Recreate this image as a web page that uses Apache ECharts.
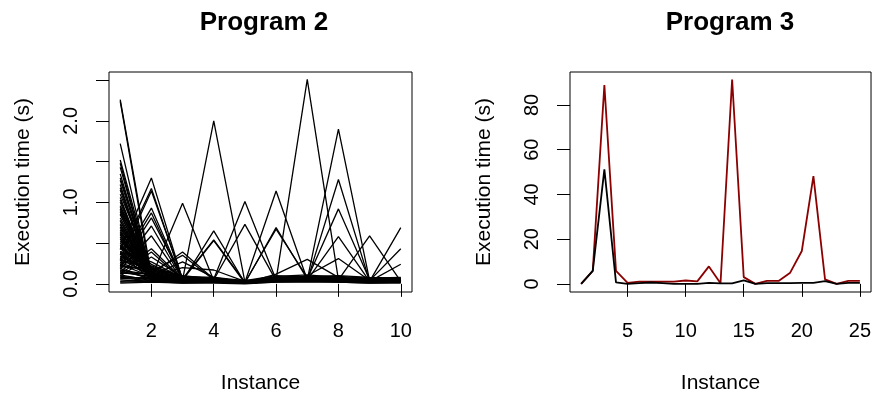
<!DOCTYPE html>
<html>
<head>
<meta charset="utf-8">
<script src="https://cdn.jsdelivr.net/npm/echarts@6/dist/echarts.min.js"></script>
<style>
  html, body { margin: 0; padding: 0; background: #fff; }
  #chart { width: 874px; height: 399px; }
</style>
</head>
<body>
<div id="chart"></div>
<script>
// Program 2: execution time of each run over 10 instances
const instances2 = [1, 2, 3, 4, 5, 6, 7, 8, 9, 10];
const program2Runs = [
  [2.26, 0.11, 0.03, 0.02, 0.01, 0.04, 0.05, 0.03, 0.02, 0.02],
  [2.24, 0.05, 0.02, 0.03, 0.01, 0.03, 0.04, 0.04, 0.03, 0.02],
  [1.72, 0.08, 0.04, 0.03, 0.02, 0.05, 0.03, 0.05, 0.02, 0.03],
  [1.52, 0.13, 0.03, 0.02, 0.01, 0.04, 0.06, 0.03, 0.04, 0.02],
  [1.48, 0.06, 0.02, 0.04, 0.02, 0.03, 0.05, 0.02, 0.03, 0.04],
  [1.43, 0.09, 0.05, 0.03, 0.01, 0.06, 0.04, 0.04, 0.02, 0.03],
  [1.35, 0.07, 0.03, 0.02, 0.02, 0.05, 0.04, 0.03, 0.03, 0.02],
  [1.30, 0.15, 0.04, 0.03, 0.01, 0.04, 0.05, 0.06, 0.02, 0.03],
  [1.27, 0.10, 0.06, 0.02, 0.02, 0.03, 0.04, 0.05, 0.03, 0.02],
  [1.22, 0.04, 0.03, 0.04, 0.01, 0.05, 0.03, 0.04, 0.02, 0.04],
  [1.18, 0.12, 0.02, 0.03, 0.02, 0.06, 0.05, 0.03, 0.03, 0.03],
  [1.15, 0.08, 0.04, 0.02, 0.01, 0.04, 0.06, 0.04, 0.02, 0.02],
  [1.10, 0.18, 0.05, 0.03, 0.02, 0.05, 0.04, 0.05, 0.04, 0.03],
  [1.06, 0.06, 0.03, 0.02, 0.01, 0.03, 0.05, 0.03, 0.02, 0.02],
  [1.03, 0.11, 0.04, 0.04, 0.02, 0.04, 0.03, 0.04, 0.03, 0.04],
  [1.00, 0.09, 0.03, 0.03, 0.01, 0.05, 0.04, 0.06, 0.02, 0.03],
  [0.96, 0.14, 0.05, 0.02, 0.02, 0.06, 0.05, 0.03, 0.03, 0.02],
  [0.92, 0.07, 0.02, 0.03, 0.01, 0.04, 0.04, 0.05, 0.02, 0.03],
  [0.88, 0.20, 0.06, 0.04, 0.02, 0.05, 0.06, 0.04, 0.04, 0.02],
  [0.85, 0.10, 0.03, 0.02, 0.01, 0.03, 0.04, 0.03, 0.02, 0.04],
  [0.42, 1.30, 0.05, 0.03, 0.02, 0.04, 0.05, 0.04, 0.03, 0.02],
  [0.35, 1.17, 0.04, 0.02, 0.01, 0.05, 0.04, 0.03, 0.02, 0.03],
  [0.30, 1.14, 0.06, 0.03, 0.02, 0.03, 0.06, 0.05, 0.03, 0.02],
  [0.28, 0.93, 0.05, 0.04, 0.01, 0.04, 0.03, 0.04, 0.02, 0.03],
  [0.25, 0.87, 0.04, 0.02, 0.02, 0.05, 0.05, 0.03, 0.03, 0.02],
  [0.22, 0.81, 0.07, 0.03, 0.01, 0.04, 0.04, 0.06, 0.02, 0.04],
  [0.20, 0.71, 0.05, 0.02, 0.02, 0.06, 0.05, 0.04, 0.03, 0.03],
  [0.18, 0.59, 0.04, 0.03, 0.01, 0.03, 0.04, 0.05, 0.02, 0.02],
  [0.15, 0.43, 0.06, 0.04, 0.02, 0.05, 0.06, 0.03, 0.04, 0.03],
  [0.12, 0.39, 0.05, 0.02, 0.01, 0.04, 0.03, 0.04, 0.02, 0.02],
  [0.10, 0.33, 0.08, 0.03, 0.02, 0.05, 0.05, 0.03, 0.03, 0.04],
  [0.60, 0.08, 0.99, 0.04, 0.02, 0.04, 0.05, 0.04, 0.03, 0.02],
  [0.48, 0.12, 0.39, 0.06, 0.02, 0.03, 0.04, 0.05, 0.02, 0.03],
  [0.45, 0.15, 0.35, 0.05, 0.01, 0.05, 0.06, 0.04, 0.03, 0.02],
  [0.38, 0.10, 0.27, 0.08, 0.02, 0.04, 0.05, 0.03, 0.02, 0.03],
  [0.78, 0.09, 0.05, 2.00, 0.02, 0.04, 0.05, 0.04, 0.03, 0.02],
  [0.70, 0.11, 0.04, 0.65, 0.01, 0.05, 0.04, 0.05, 0.02, 0.03],
  [0.66, 0.07, 0.06, 0.54, 0.02, 0.06, 0.05, 0.03, 0.03, 0.02],
  [0.63, 0.13, 0.05, 0.53, 0.01, 0.04, 0.06, 0.04, 0.02, 0.04],
  [0.55, 0.09, 0.20, 0.17, 0.03, 0.05, 0.04, 0.05, 0.03, 0.02],
  [0.81, 0.10, 0.04, 0.06, 1.01, 0.05, 0.04, 0.04, 0.03, 0.02],
  [0.74, 0.08, 0.05, 0.05, 0.73, 0.04, 0.05, 0.03, 0.02, 0.03],
  [0.68, 0.12, 0.04, 0.03, 0.02, 1.14, 0.05, 0.04, 0.03, 0.02],
  [0.58, 0.09, 0.05, 0.04, 0.01, 0.69, 0.06, 0.05, 0.02, 0.03],
  [0.52, 0.14, 0.03, 0.02, 0.02, 0.67, 0.08, 0.04, 0.03, 0.02],
  [0.90, 0.11, 0.04, 0.03, 0.02, 0.05, 2.51, 0.05, 0.03, 0.02],
  [0.50, 0.06, 0.05, 0.04, 0.01, 0.12, 0.30, 0.08, 0.02, 0.03],
  [0.94, 0.13, 0.04, 0.03, 0.02, 0.04, 0.05, 1.90, 0.04, 0.02],
  [0.86, 0.10, 0.05, 0.04, 0.01, 0.05, 0.04, 1.28, 0.03, 0.03],
  [0.77, 0.08, 0.03, 0.02, 0.02, 0.06, 0.06, 0.92, 0.05, 0.02],
  [0.72, 0.12, 0.06, 0.03, 0.01, 0.04, 0.05, 0.58, 0.03, 0.04],
  [0.64, 0.09, 0.04, 0.05, 0.02, 0.05, 0.10, 0.31, 0.04, 0.02],
  [0.61, 0.07, 0.05, 0.04, 0.01, 0.03, 0.04, 0.05, 0.59, 0.03],
  [0.57, 0.11, 0.04, 0.03, 0.02, 0.05, 0.05, 0.04, 0.03, 0.69],
  [0.47, 0.08, 0.06, 0.02, 0.01, 0.04, 0.06, 0.03, 0.04, 0.43],
  [0.40, 0.10, 0.03, 0.04, 0.02, 0.06, 0.04, 0.05, 0.03, 0.24],
  [0.44, 0.08, 0.07, 0.06, 0.03, 0.08, 0.09, 0.07, 0.06, 0.07],
  [0.37, 0.05, 0.04, 0.02, 0.02, 0.03, 0.04, 0.03, 0.03, 0.02],
  [0.33, 0.16, 0.09, 0.08, 0.04, 0.10, 0.08, 0.09, 0.07, 0.08],
  [0.31, 0.10, 0.03, 0.02, 0.01, 0.05, 0.03, 0.05, 0.02, 0.03],
  [0.27, 0.22, 0.08, 0.07, 0.03, 0.09, 0.11, 0.08, 0.06, 0.06],
  [0.24, 0.09, 0.04, 0.02, 0.02, 0.05, 0.05, 0.03, 0.03, 0.02],
  [0.21, 0.19, 0.10, 0.06, 0.04, 0.07, 0.09, 0.10, 0.08, 0.07],
  [0.19, 0.05, 0.03, 0.04, 0.01, 0.03, 0.04, 0.05, 0.02, 0.03],
  [0.16, 0.07, 0.02, 0.03, 0.01, 0.04, 0.03, 0.04, 0.03, 0.02],
  [0.13, 0.13, 0.07, 0.05, 0.03, 0.08, 0.07, 0.06, 0.05, 0.06],
  [0.11, 0.04, 0.02, 0.02, 0.01, 0.03, 0.04, 0.04, 0.03, 0.03],
  [0.09, 0.06, 0.03, 0.02, 0.01, 0.03, 0.05, 0.04, 0.03, 0.02],
  [0.07, 0.04, 0.02, 0.03, 0.01, 0.04, 0.03, 0.03, 0.02, 0.03],
  [0.05, 0.02, 0.03, 0.02, 0.01, 0.03, 0.04, 0.05, 0.03, 0.02],
  [0.03, 0.05, 0.02, 0.04, 0.02, 0.05, 0.03, 0.03, 0.02, 0.03],
  [0.02, 0.03, 0.01, 0.02, 0.01, 0.02, 0.03, 0.02, 0.01, 0.02],
  [0.01, 0.02, 0.01, 0.01, 0.00, 0.02, 0.02, 0.02, 0.01, 0.01],
  [0.53, 0.24, 0.06, 0.04, 0.02, 0.06, 0.07, 0.05, 0.04, 0.05],
  [0.46, 0.18, 0.05, 0.03, 0.02, 0.05, 0.06, 0.06, 0.03, 0.04],
  [0.39, 0.27, 0.07, 0.05, 0.03, 0.07, 0.06, 0.07, 0.05, 0.05],
  [0.34, 0.14, 0.06, 0.04, 0.02, 0.06, 0.08, 0.06, 0.04, 0.06],
  [0.29, 0.21, 0.05, 0.03, 0.02, 0.05, 0.07, 0.05, 0.04, 0.04],
  [0.26, 0.12, 0.06, 0.05, 0.03, 0.06, 0.06, 0.07, 0.05, 0.05],
  [0.23, 0.16, 0.07, 0.04, 0.02, 0.07, 0.08, 0.06, 0.04, 0.05],
  [0.17, 0.11, 0.05, 0.03, 0.02, 0.05, 0.06, 0.05, 0.04, 0.04],
  [0.14, 0.09, 0.06, 0.04, 0.02, 0.06, 0.05, 0.06, 0.03, 0.05],
  [0.08, 0.07, 0.05, 0.03, 0.02, 0.04, 0.05, 0.04, 0.04, 0.04],
  [0.06, 0.08, 0.04, 0.05, 0.03, 0.05, 0.06, 0.05, 0.05, 0.05]
];
const program2XTicks = [2, 4, 6, 8, 10];
const program2YTicks = [0, 0.5, 1, 1.5, 2, 2.5];
const program2YLabels = [0, 1, 2];

// Program 3: two timing series over 25 instances
const instances3 = [1, 2, 3, 4, 5, 6, 7, 8, 9, 10, 11, 12, 13, 14, 15, 16, 17, 18, 19, 20, 21, 22, 23, 24, 25];
const program3Red = [0, 5.8, 88.9, 5.8, 0.4, 1.0, 1.0, 1.0, 1.0, 1.5, 1.1, 7.8, 0.3, 91.4, 3.0, 0, 1.3, 1.3, 5.0, 14.7, 48.2, 2.0, 0, 1.3, 1.3];
const program3Black = [0, 5.8, 51.2, 0.7, 0, 0.3, 0.6, 0.3, 0, 0, 0, 0.4, 0.2, 0.2, 1.6, 0, 0.3, 0.3, 0.3, 0.4, 0.4, 1.2, 0, 0.4, 0.4];
const program3XTicks = [5, 10, 15, 20, 25];
const program3YTicks = [0, 20, 40, 60, 80];

const FONT = "'Liberation Sans', Arial, Helvetica, sans-serif";
const toPoints = (xs, ys) => ys.map((v, i) => [xs[i], v]);

function xAxisFor(gridIndex, min, max, ticks) {
  return {
    type: 'value', gridIndex, min, max,
    name: 'Instance', nameLocation: 'middle', nameGap: 81,
    nameTextStyle: { fontFamily: FONT, fontSize: 21, color: '#000' },
    axisLine: { show: false },
    splitLine: { show: false },
    axisTick: { show: true, inside: false, length: 13, customValues: ticks,
                lineStyle: { color: '#000', width: 1 } },
    axisLabel: { show: true, margin: 29, customValues: ticks,
                 fontFamily: FONT, fontSize: 20, color: '#000' }
  };
}

function yAxisFor(gridIndex, min, max, ticks, labels, fmt) {
  return {
    type: 'value', gridIndex, min, max,
    name: 'Execution time (s)', nameLocation: 'middle', nameGap: 75,
    nameTextStyle: { fontFamily: FONT, fontSize: 21, color: '#000' },
    axisLine: { show: false },
    splitLine: { show: false },
    axisTick: { show: true, inside: false, length: 13, customValues: ticks,
                lineStyle: { color: '#000', width: 1 } },
    axisLabel: { show: true, margin: 28, rotate: 90, customValues: labels,
                 formatter: fmt, fontFamily: FONT, fontSize: 20, color: '#000' }
  };
}

const series = [];
program2Runs.forEach((run, i) => {
  series.push({
    type: 'line', name: 'run ' + (i + 1), xAxisIndex: 0, yAxisIndex: 0,
    data: toPoints(instances2, run), symbol: 'none', silent: true,
    lineStyle: { color: '#000', width: 1.3 }
  });
});
series.push({
  type: 'line', name: 'Program 3 (red)', xAxisIndex: 1, yAxisIndex: 1,
  data: toPoints(instances3, program3Red), symbol: 'none', silent: true,
  lineStyle: { color: '#8b0000', width: 1.8 }
});
series.push({
  type: 'line', name: 'Program 3 (black)', xAxisIndex: 1, yAxisIndex: 1,
  data: toPoints(instances3, program3Black), symbol: 'none', silent: true,
  lineStyle: { color: '#000', width: 1.8 }
});

const chart = echarts.init(document.getElementById('chart'), null, { renderer: 'canvas' });
chart.setOption({
  animation: false,
  backgroundColor: '#fff',
  textStyle: { fontFamily: FONT },
  title: [
    { text: 'Program 2', left: 259, top: 5, textAlign: 'center',
      textStyle: { fontFamily: FONT, fontSize: 26, fontWeight: 'bold', color: '#000' } },
    { text: 'Program 3', left: 725, top: 5, textAlign: 'center',
      textStyle: { fontFamily: FONT, fontSize: 26, fontWeight: 'bold', color: '#000' } }
  ],
  grid: [
    { left: 109, top: 72, width: 303, height: 225, show: true,
      borderColor: '#000', borderWidth: 1, backgroundColor: 'transparent' },
    { left: 570, top: 72, width: 303, height: 225, show: true,
      borderColor: '#000', borderWidth: 1, backgroundColor: 'transparent' }
  ],
  xAxis: [
    xAxisFor(0, 0.64, 10.36, program2XTicks),
    xAxisFor(1, 0.04, 25.96, program3XTicks)
  ],
  yAxis: [
    yAxisFor(0, -0.1, 2.6, program2YTicks, program2YLabels, v => v.toFixed(1)),
    yAxisFor(1, -3.64, 94.74, program3YTicks, program3YTicks, v => String(v))
  ],
  series
});
</script>
</body>
</html>
